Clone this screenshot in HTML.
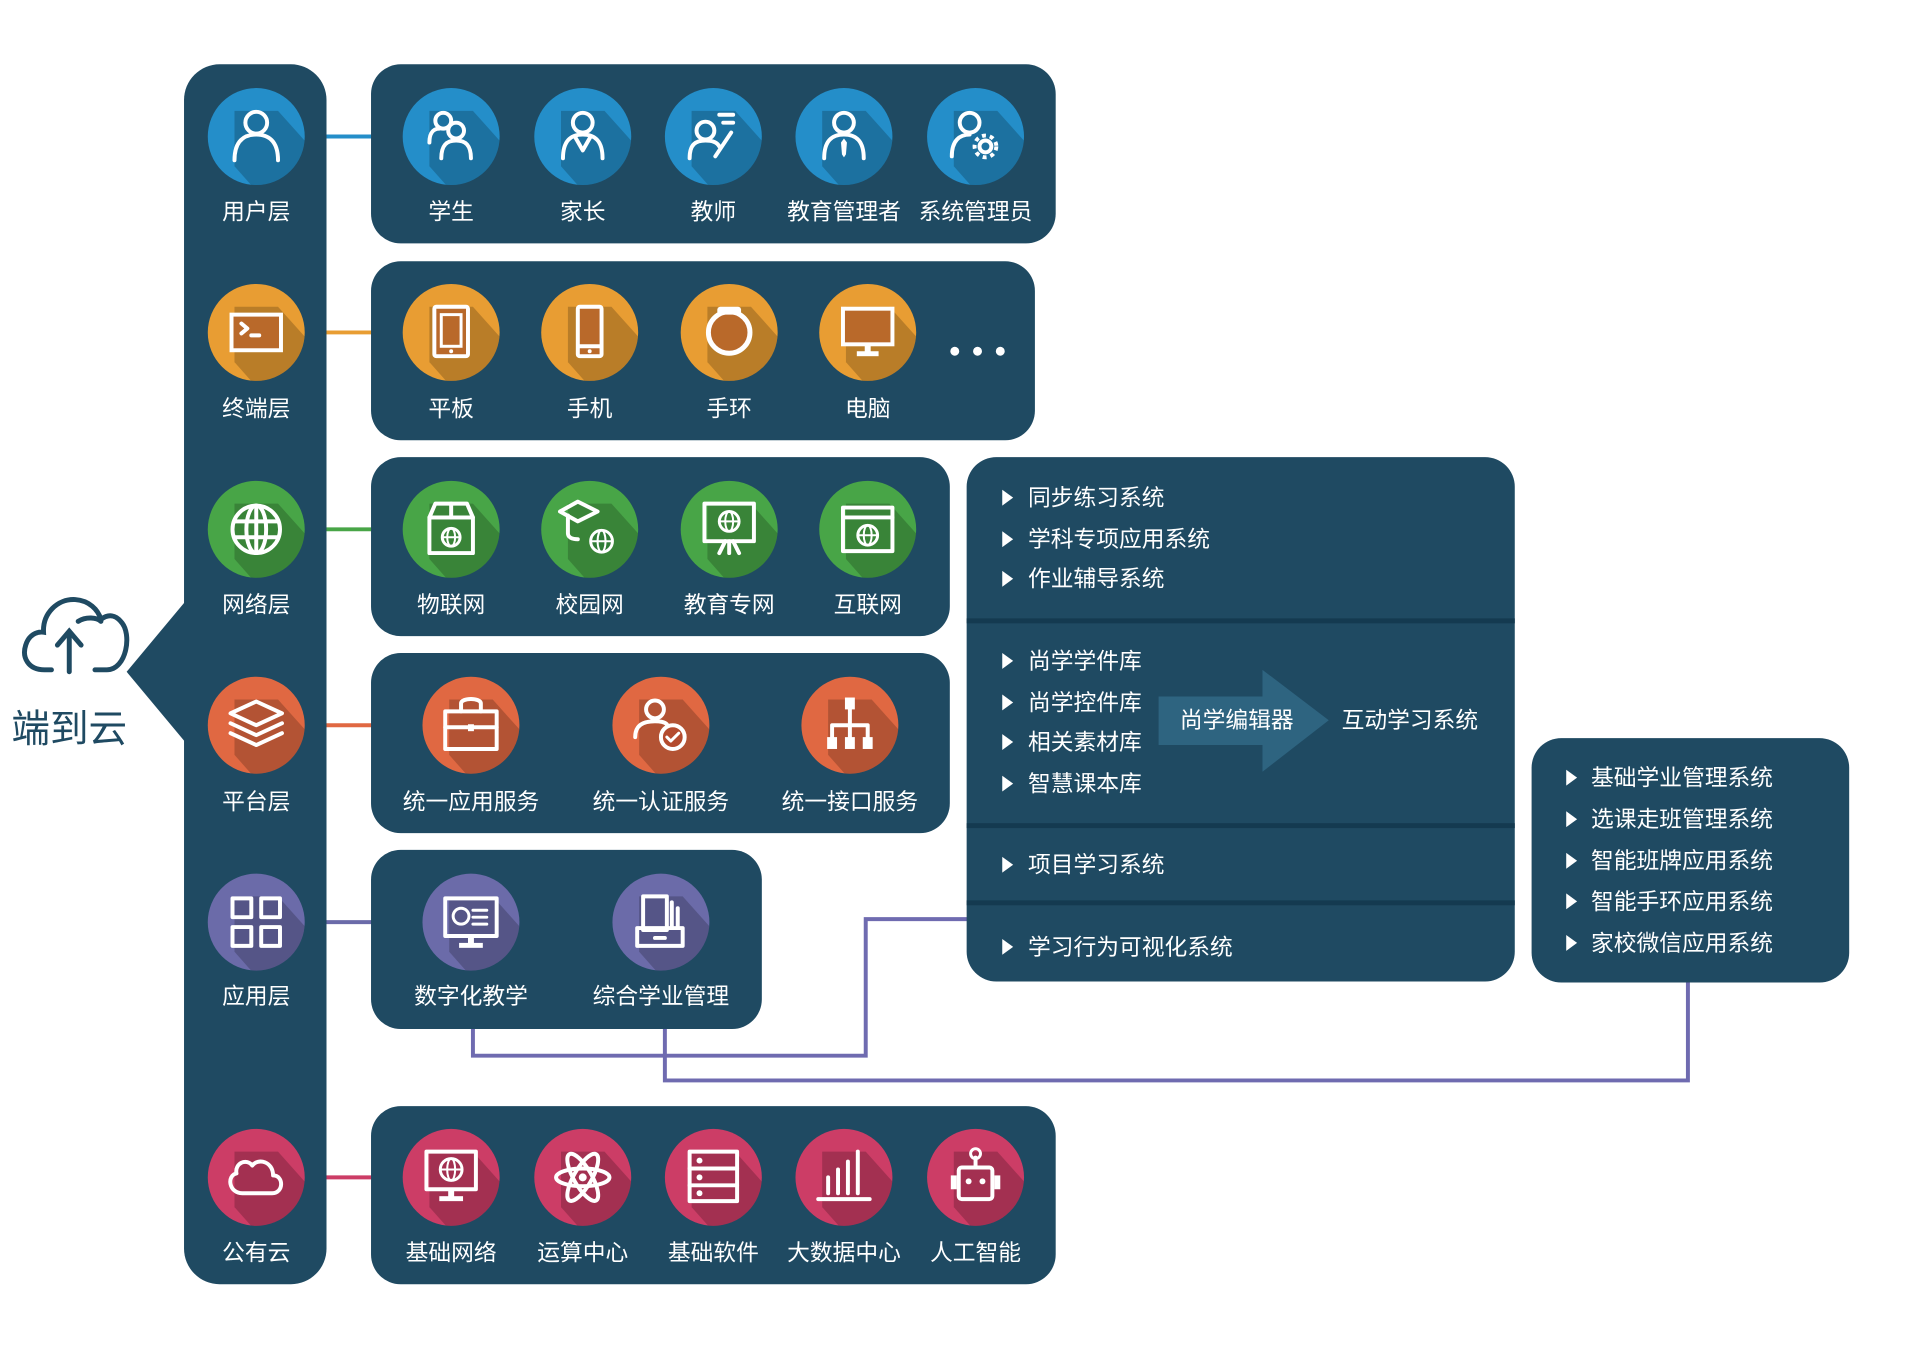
<!DOCTYPE html>
<html><head><meta charset="utf-8"><style>
html,body{margin:0;padding:0;background:#fff;}
svg{display:block;}
text{font-family:"Liberation Sans","Noto Sans CJK SC",sans-serif;fill:#fff;}
.lb{font-size:23px;text-anchor:middle;}
.li{font-size:23px;}
.ic{fill:none;stroke:#fff;stroke-width:4;stroke-linecap:round;stroke-linejoin:round;}
.sh{fill:#000;opacity:.2;}
</style></head><body>
<svg width="1910" height="1350" viewBox="0 0 1910 1350" xmlns="http://www.w3.org/2000/svg">
<defs>
<clipPath id="cc"><circle r="49"/></clipPath>
<g id="shadow"><polygon class="sh" clip-path="url(#cc)" points="-22,-26 22,-26 90,50 40,100 -22,30"/></g>
</defs>
<g transform="scale(0.9894)">
<!-- connectors -->
<g stroke-width="4" fill="none">
<line x1="328" y1="138" x2="377" y2="138" stroke="#248ec9"/>
<line x1="328" y1="336" x2="377" y2="336" stroke="#e89d33"/>
<line x1="328" y1="535" x2="377" y2="535" stroke="#48a547"/>
<line x1="328" y1="733" x2="377" y2="733" stroke="#e06842"/>
<line x1="328" y1="932" x2="377" y2="932" stroke="#6b6ba9"/>
<line x1="328" y1="1190" x2="377" y2="1190" stroke="#cc3d66"/>
<polyline points="478,1040 478,1067 875,1067 875,929 979,929" stroke="#6f6bb0"/>
<polyline points="672,1040 672,1092 1706,1092 1706,992" stroke="#6f6bb0"/>
</g>

<!-- left column -->
<rect x="186" y="65" width="144" height="1233" rx="36" fill="#1f4a62"/>
<polygon points="188,607 128,679 188,751" fill="#1f4a62"/>
<!-- cloud -->
<g fill="none" stroke="#1f4a62" stroke-width="5" stroke-linecap="round">
<path d="M52,677 H45 C28,677 22,664 26,652 C29,642 37,638 44,639 C43,620 58,605 76,606 C90,607 99,616 102,626 C110,620 117,622 122,628 C134,640 128,677 108,677 H96"/>
<path d="M79,628 C87,623 98,624 102,628" />
<line x1="70" y1="679" x2="70" y2="640"/>
<polyline points="58,652 70,638 82,652"/>
</g>
<text x="70" y="750" font-size="39" text-anchor="middle" style="fill:#1f4a62">端到云</text>

<!-- row boxes -->
<g fill="#1f4a62">
<rect x="375" y="65" width="692" height="181" rx="30"/>
<rect x="375" y="264" width="671" height="181" rx="30"/>
<rect x="375" y="462" width="585" height="181" rx="30"/>
<rect x="375" y="660" width="585" height="182" rx="30"/>
<rect x="375" y="859" width="395" height="181" rx="30"/>
<rect x="375" y="1118" width="692" height="180" rx="30"/>
<rect x="977" y="462" width="554" height="530" rx="30"/>
<rect x="1548" y="746" width="321" height="247" rx="30"/>
</g>
<g fill="#143a50">
<rect x="977" y="625" width="554" height="5"/>
<rect x="977" y="832" width="554" height="5"/>
<rect x="977" y="910" width="554" height="5"/>
</g>

<!-- ===== layer circles ===== -->
<g transform="translate(259,138)"><circle r="49" fill="#248ec9"/><use href="#shadow"/>
<circle class="ic" cx="0" cy="-14" r="11"/><path class="ic" d="M-22,24 C-22,4 -12,-2 0,-2 C12,-2 22,4 22,24"/></g>
<text class="lb" x="259" y="222">用户层</text>
<g transform="translate(259,336)"><circle r="49" fill="#e89d33"/><use href="#shadow"/>
<rect x="-25" y="-18" width="50" height="36" fill="#b9692a" stroke="#fff" stroke-width="4"/>
<polyline class="ic" points="-15,-9 -9,-4 -15,1"/><line class="ic" x1="-5" y1="3" x2="3" y2="3"/></g>
<text class="lb" x="259" y="421">终端层</text>
<g transform="translate(259,535)"><circle r="49" fill="#48a547"/><use href="#shadow"/>
<circle class="ic" r="24"/><ellipse class="ic" rx="10" ry="24"/><line class="ic" x1="0" y1="-24" x2="0" y2="24"/><line class="ic" x1="-22" y1="-8" x2="22" y2="-8"/><line class="ic" x1="-22" y1="8" x2="22" y2="8"/></g>
<text class="lb" x="259" y="619">网络层</text>
<g transform="translate(259,733)"><circle r="49" fill="#e06842"/><use href="#shadow"/>
<polygon class="ic" points="0,-24 26,-12 0,0 -26,-12" fill="#b44b2e"/><polyline class="ic" points="-26,-2 0,10 26,-2"/><polyline class="ic" points="-26,8 0,20 26,8"/></g>
<text class="lb" x="259" y="818">平台层</text>
<g transform="translate(259,932)"><circle r="49" fill="#6b6ba9"/><use href="#shadow"/>
<rect class="ic" x="-24" y="-24" width="19" height="19"/><rect class="ic" x="5" y="-24" width="19" height="19"/><rect class="ic" x="-24" y="5" width="19" height="19"/><rect class="ic" x="5" y="5" width="19" height="19"/></g>
<text class="lb" x="259" y="1015">应用层</text>
<g transform="translate(259,1190)"><circle r="49" fill="#cc3d66"/><use href="#shadow"/>
<path class="ic" fill="#a92a52" d="M-14,16 H16 C28,16 28,-2 17,-2 C17,-16 2,-20 -4,-12 C-10,-20 -22,-14 -20,-4 C-30,-2 -28,16 -14,16 Z"/></g>
<text class="lb" x="259" y="1274">公有云</text>

<!-- ===== row 1 users ===== -->
<g transform="translate(456,138)"><circle r="49" fill="#248ec9"/><use href="#shadow"/>
<circle class="ic" cx="-8" cy="-16" r="8"/><path class="ic" d="M-22,6 C-22,-6 -16,-8 -12,-8"/><circle class="ic" cx="5" cy="-6" r="8"/><path class="ic" d="M-10,22 C-10,8 -4,4 5,4 C14,4 20,8 20,22"/></g>
<g transform="translate(589,138)"><circle r="49" fill="#248ec9"/><use href="#shadow"/>
<circle class="ic" cx="0" cy="-14" r="10"/><path class="ic" d="M-20,22 C-20,4 -12,-2 0,-2 C12,-2 20,4 20,22"/><polyline class="ic" points="-8,0 0,14 8,0"/></g>
<g transform="translate(721,138)"><circle r="49" fill="#248ec9"/><use href="#shadow"/>
<circle class="ic" cx="-8" cy="-6" r="9"/><path class="ic" d="M-24,22 C-24,8 -18,4 -8,4 C0,4 4,6 6,10"/><line class="ic" x1="2" y1="20" x2="18" y2="-4"/><line class="ic" x1="6" y1="-22" x2="20" y2="-22"/><line class="ic" x1="10" y1="-14" x2="20" y2="-14"/></g>
<g transform="translate(853,138)"><circle r="49" fill="#248ec9"/><use href="#shadow"/>
<circle class="ic" cx="0" cy="-14" r="10"/><path class="ic" d="M-20,22 C-20,4 -12,-2 0,-2 C12,-2 20,4 20,22"/><polygon points="0,2 3,6 2,18 0,21 -2,18 -3,6" fill="#fff"/></g>
<g transform="translate(986,138)"><circle r="49" fill="#248ec9"/><use href="#shadow"/>
<circle class="ic" cx="-6" cy="-14" r="10"/><path class="ic" d="M-24,20 C-24,4 -16,-2 -6,-2"/><circle class="ic" cx="10" cy="10" r="6"/><circle cx="10" cy="10" r="11" fill="none" stroke="#fff" stroke-width="4" stroke-dasharray="4 4"/></g>
<text class="lb" x="456" y="222">学生</text><text class="lb" x="589" y="222">家长</text><text class="lb" x="721" y="222">教师</text><text class="lb" x="853" y="222">教育管理者</text><text class="lb" x="986" y="222">系统管理员</text>

<!-- ===== row 2 terminals ===== -->
<g transform="translate(456,336)"><circle r="49" fill="#e89d33"/><use href="#shadow"/>
<rect x="-17" y="-26" width="34" height="50" rx="2" fill="#b9692a" stroke="#fff" stroke-width="4"/><rect x="-10" y="-18" width="20" height="32" fill="none" stroke="#fff" stroke-width="3"/><circle cx="0" cy="19" r="2" fill="#fff"/></g>
<g transform="translate(596,336)"><circle r="49" fill="#e89d33"/><use href="#shadow"/>
<rect x="-12" y="-26" width="24" height="50" rx="2" fill="#b9692a" stroke="#fff" stroke-width="4"/><line class="ic" x1="-10" y1="14" x2="10" y2="14"/><circle cx="0" cy="19" r="2" fill="#fff"/></g>
<g transform="translate(737,336)"><circle r="49" fill="#e89d33"/><use href="#shadow"/>
<circle r="21" fill="#b9692a" stroke="#fff" stroke-width="5"/><rect x="-12" y="-26" width="24" height="8" rx="3" fill="#fff"/></g>
<g transform="translate(877,336)"><circle r="49" fill="#e89d33"/><use href="#shadow"/>
<rect x="-25" y="-24" width="50" height="36" fill="#b9692a" stroke="#fff" stroke-width="4"/><rect x="-3" y="12" width="6" height="8" fill="#fff"/><rect x="-11" y="19" width="22" height="5" fill="#fff"/></g>
<g fill="#fff"><circle cx="965" cy="355" r="4.5"/><circle cx="988" cy="355" r="4.5"/><circle cx="1011" cy="355" r="4.5"/></g>
<text class="lb" x="456" y="421">平板</text><text class="lb" x="596" y="421">手机</text><text class="lb" x="737" y="421">手环</text><text class="lb" x="877" y="421">电脑</text>

<!-- ===== row 3 networks ===== -->
<g transform="translate(456,535)"><circle r="49" fill="#48a547"/><use href="#shadow"/>
<rect class="ic" x="-22" y="-12" width="44" height="36" fill="#2f7c36"/><polygon class="ic" points="-22,-12 -16,-26 16,-26 22,-12"/><line class="ic" x1="0" y1="-26" x2="0" y2="-12"/><circle cx="0" cy="8" r="9" fill="none" stroke="#fff" stroke-width="3"/><line x1="-9" y1="8" x2="9" y2="8" stroke="#fff" stroke-width="2"/><ellipse cx="0" cy="8" rx="4" ry="9" fill="none" stroke="#fff" stroke-width="2"/></g>
<g transform="translate(596,535)"><circle r="49" fill="#48a547"/><use href="#shadow"/>
<polygon class="ic" points="-12,-28 8,-18 -12,-8 -30,-18"/><path class="ic" d="M-22,-14 V4 C-22,8 -18,10 -12,10"/><circle cx="12" cy="12" r="11" fill="#2f7c36" stroke="#fff" stroke-width="3"/><ellipse cx="12" cy="12" rx="4" ry="11" fill="none" stroke="#fff" stroke-width="2"/><line x1="1" y1="12" x2="23" y2="12" stroke="#fff" stroke-width="2"/></g>
<g transform="translate(737,535)"><circle r="49" fill="#48a547"/><use href="#shadow"/>
<rect class="ic" x="-25" y="-26" width="50" height="38" fill="#2f7c36"/><circle cx="0" cy="-8" r="10" fill="none" stroke="#fff" stroke-width="3"/><ellipse cx="0" cy="-8" rx="4" ry="10" fill="none" stroke="#fff" stroke-width="2"/><line x1="-10" y1="-8" x2="10" y2="-8" stroke="#fff" stroke-width="2"/><line class="ic" x1="0" y1="12" x2="0" y2="24"/><line class="ic" x1="-4" y1="12" x2="-10" y2="24"/><line class="ic" x1="4" y1="12" x2="10" y2="24"/></g>
<g transform="translate(877,535)"><circle r="49" fill="#48a547"/><use href="#shadow"/>
<rect class="ic" x="-25" y="-22" width="50" height="44" fill="#2f7c36"/><line class="ic" x1="-25" y1="-12" x2="25" y2="-12"/><circle cx="0" cy="6" r="10" fill="none" stroke="#fff" stroke-width="3"/><ellipse cx="0" cy="6" rx="4" ry="10" fill="none" stroke="#fff" stroke-width="2"/><line x1="-10" y1="6" x2="10" y2="6" stroke="#fff" stroke-width="2"/></g>
<text class="lb" x="456" y="619">物联网</text><text class="lb" x="596" y="619">校园网</text><text class="lb" x="737" y="619">教育专网</text><text class="lb" x="877" y="619">互联网</text>

<!-- ===== row 4 platform ===== -->
<g transform="translate(476,733)"><circle r="49" fill="#e06842"/><use href="#shadow"/>
<rect class="ic" x="-26" y="-14" width="52" height="38" fill="#b44b2e"/><path class="ic" d="M-10,-14 V-22 C-10,-28 10,-28 10,-22 V-14"/><line class="ic" x1="-26" y1="2" x2="26" y2="2"/><rect x="-3" y="-1" width="6" height="7" fill="#fff"/></g>
<g transform="translate(668,733)"><circle r="49" fill="#e06842"/><use href="#shadow"/>
<circle class="ic" cx="-6" cy="-16" r="9"/><path class="ic" d="M-26,12 C-26,0 -18,-4 -6,-4 C0,-4 4,-3 6,-1"/><circle cx="12" cy="12" r="12" fill="#b44b2e" stroke="#fff" stroke-width="4"/><polyline class="ic" points="6,12 10,16 18,8" style="stroke-width:3"/></g>
<g transform="translate(859,733)"><circle r="49" fill="#e06842"/><use href="#shadow"/>
<rect x="-5" y="-28" width="10" height="12" fill="#fff"/><line class="ic" x1="0" y1="-16" x2="0" y2="12"/><polyline class="ic" points="-18,12 -18,0 18,0 18,12"/><rect x="-23" y="12" width="10" height="12" fill="#fff"/><rect x="-5" y="12" width="10" height="12" fill="#fff"/><rect x="13" y="12" width="10" height="12" fill="#fff"/></g>
<text class="lb" x="476" y="818">统一应用服务</text><text class="lb" x="668" y="818">统一认证服务</text><text class="lb" x="859" y="818">统一接口服务</text>

<!-- ===== row 5 app ===== -->
<g transform="translate(476,932)"><circle r="49" fill="#6b6ba9"/><use href="#shadow"/>
<rect class="ic" x="-26" y="-24" width="52" height="38" fill="#4d4f90"/><circle class="ic" cx="-10" cy="-6" r="8" style="stroke-width:3"/><line class="ic" x1="2" y1="-12" x2="16" y2="-12" style="stroke-width:3"/><line class="ic" x1="2" y1="-5" x2="16" y2="-5" style="stroke-width:3"/><line class="ic" x1="2" y1="2" x2="16" y2="2" style="stroke-width:3"/><rect x="-3" y="14" width="6" height="8" fill="#fff"/><rect x="-12" y="21" width="24" height="5" fill="#fff"/></g>
<g transform="translate(668,932)"><circle r="49" fill="#6b6ba9"/><use href="#shadow"/>
<rect class="ic" x="-18" y="-26" width="24" height="34" fill="#4d4f90"/><line class="ic" x1="11" y1="-20" x2="11" y2="6"/><line class="ic" x1="17" y1="-14" x2="17" y2="6"/><rect class="ic" x="-24" y="6" width="46" height="18" fill="#4d4f90"/><line class="ic" x1="-6" y1="16" x2="4" y2="16"/></g>
<text class="lb" x="476" y="1015">数字化教学</text><text class="lb" x="668" y="1015">综合学业管理</text>

<!-- ===== row 6 cloud ===== -->
<g transform="translate(456,1190)"><circle r="49" fill="#cc3d66"/><use href="#shadow"/>
<rect class="ic" x="-25" y="-26" width="50" height="38" fill="#a92a52"/><circle cx="0" cy="-8" r="11" fill="none" stroke="#fff" stroke-width="3"/><ellipse cx="0" cy="-8" rx="4" ry="11" fill="none" stroke="#fff" stroke-width="2"/><line x1="-11" y1="-8" x2="11" y2="-8" stroke="#fff" stroke-width="2"/><rect x="-3" y="12" width="6" height="8" fill="#fff"/><rect x="-12" y="19" width="24" height="5" fill="#fff"/></g>
<g transform="translate(589,1190)"><circle r="49" fill="#cc3d66"/><use href="#shadow"/>
<ellipse class="ic" rx="27" ry="9"/><ellipse class="ic" rx="27" ry="9" transform="rotate(60)"/><ellipse class="ic" rx="27" ry="9" transform="rotate(-60)"/><circle r="4" fill="#fff"/></g>
<g transform="translate(721,1190)"><circle r="49" fill="#cc3d66"/><use href="#shadow"/>
<rect class="ic" x="-24" y="-26" width="48" height="50" fill="#a92a52"/><line class="ic" x1="-24" y1="-9" x2="24" y2="-9"/><line class="ic" x1="-24" y1="8" x2="24" y2="8"/><circle cx="-14" cy="-17" r="3" fill="#fff"/><circle cx="-14" cy="0" r="3" fill="#fff"/><circle cx="-14" cy="16" r="3" fill="#fff"/></g>
<g transform="translate(853,1190)"><circle r="49" fill="#cc3d66"/><use href="#shadow"/>
<line class="ic" x1="-26" y1="22" x2="26" y2="22"/><line class="ic" x1="-16" y1="16" x2="-16" y2="0"/><line class="ic" x1="-6" y1="16" x2="-6" y2="-8"/><line class="ic" x1="4" y1="16" x2="4" y2="-16"/><line class="ic" x1="14" y1="16" x2="14" y2="-26"/></g>
<g transform="translate(986,1190)"><circle r="49" fill="#cc3d66"/><use href="#shadow"/>
<rect class="ic" x="-17" y="-10" width="34" height="32" rx="3" fill="#a92a52"/><line class="ic" x1="0" y1="-10" x2="0" y2="-20"/><circle cx="0" cy="-24" r="5" fill="none" stroke="#fff" stroke-width="3"/><rect x="-25" y="-2" width="6" height="14" fill="#fff"/><rect x="19" y="-2" width="6" height="14" fill="#fff"/><circle cx="-7" cy="4" r="3" fill="#fff"/><circle cx="7" cy="4" r="3" fill="#fff"/></g>
<text class="lb" x="456" y="1274">基础网络</text><text class="lb" x="589" y="1274">运算中心</text><text class="lb" x="721" y="1274">基础软件</text><text class="lb" x="853" y="1274">大数据中心</text><text class="lb" x="986" y="1274">人工智能</text>

<!-- ===== big panel lists ===== -->
<g fill="#fff">
<polygon points="1013,495 1013,511 1024,503"/>
<polygon points="1013,537 1013,553 1024,545"/>
<polygon points="1013,577 1013,593 1024,585"/>
<polygon points="1013,660 1013,676 1024,668"/>
<polygon points="1013,702 1013,718 1024,710"/>
<polygon points="1013,742 1013,758 1024,750"/>
<polygon points="1013,784 1013,800 1024,792"/>
<polygon points="1013,866 1013,882 1024,874"/>
<polygon points="1013,949 1013,965 1024,957"/>
</g>
<text class="li" x="1039" y="511">同步练习系统</text>
<text class="li" x="1039" y="553">学科专项应用系统</text>
<text class="li" x="1039" y="593">作业辅导系统</text>
<text class="li" x="1039" y="676">尚学学件库</text>
<text class="li" x="1039" y="718">尚学控件库</text>
<text class="li" x="1039" y="758">相关素材库</text>
<text class="li" x="1039" y="800">智慧课本库</text>
<text class="li" x="1039" y="882">项目学习系统</text>
<text class="li" x="1039" y="965">学习行为可视化系统</text>
<polygon points="1171,704 1276,704 1276,677 1343,728 1276,780 1276,753 1171,753" fill="#2e6480"/>
<text class="lb" x="1250" y="736">尚学编辑器</text>
<text class="li" x="1356" y="736">互动学习系统</text>

<!-- right panel -->
<g fill="#fff">
<polygon points="1583,778 1583,794 1594,786"/>
<polygon points="1583,820 1583,836 1594,828"/>
<polygon points="1583,862 1583,878 1594,870"/>
<polygon points="1583,903 1583,919 1594,911"/>
<polygon points="1583,945 1583,961 1594,953"/>
</g>
<text class="li" x="1608" y="794">基础学业管理系统</text>
<text class="li" x="1608" y="836">选课走班管理系统</text>
<text class="li" x="1608" y="878">智能班牌应用系统</text>
<text class="li" x="1608" y="919">智能手环应用系统</text>
<text class="li" x="1608" y="961">家校微信应用系统</text>
</g>
</svg>
</body></html>
